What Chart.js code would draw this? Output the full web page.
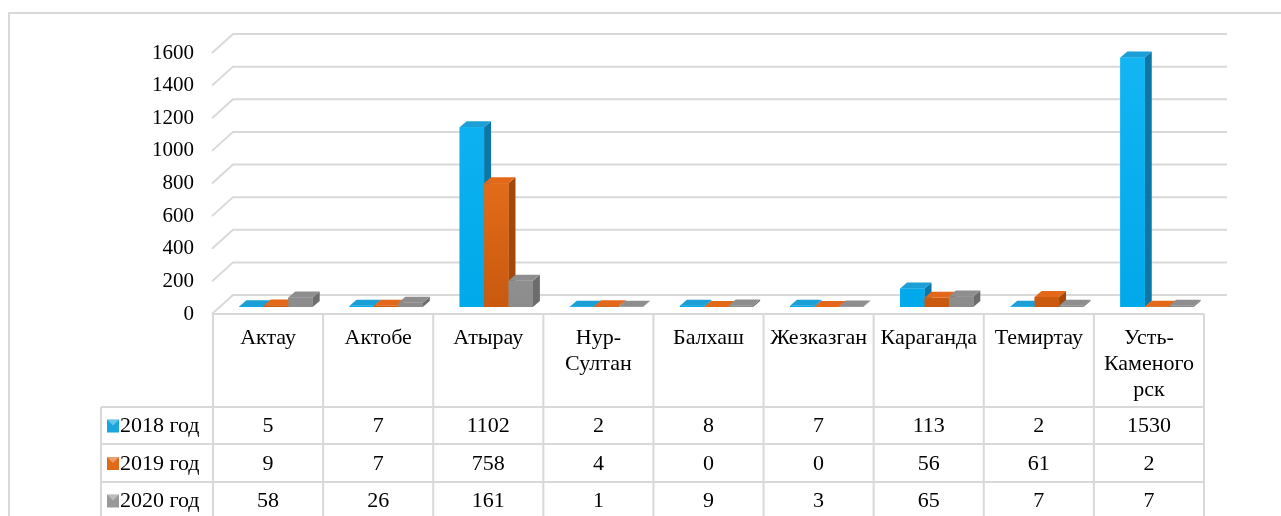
<!DOCTYPE html>
<html><head><meta charset="utf-8">
<script src="https://cdn.jsdelivr.net/npm/chart.js@4/dist/chart.umd.min.js"></script>
<style>html,body{margin:0;padding:0;background:#fff;}canvas{display:block;}</style>
</head><body>
<canvas id="c" width="1281" height="516"></canvas>
<script>
// ---- data ----
const categories = [["Актау"],["Актобе"],["Атырау"],["Нур-","Султан"],["Балхаш"],["Жезказган"],["Караганда"],["Темиртау"],["Усть-","Каменого","рск"]];
const seriesNames = ["2018 год","2019 год","2020 год"];
const values2018 = [5,7,1102,2,8,7,113,2,1530];
const values2019 = [9,7,758,4,0,0,56,61,2];
const values2020 = [58,26,161,1,9,3,65,7,7];
const yTicks = [0,200,400,600,800,1000,1200,1400,1600];

// ---- styles ----
const FAMILY = "'Liberation Serif', 'Times New Roman', serif";
const FONT = "22px " + FAMILY;
const GRID = '#D9D9D9';
const WALL = {dx:21, dy:-19};
const SHIFT = {dx:8, dy:-7};
const BD = {dx:7, dy:-6};
const palette = [
  {g:['#12B6F3','#00A9EA'], side:'#0A77A8', top:'#1B9FD6', mark:'#1AA6DC'},
  {g:['#FF8024','#C8590F'], side:'#A3470A', top:'#E3681A', mark:'#E06A1A'},
  {g:['#A8A8A8','#8C8C8C'], side:'#6C6C6C', top:'#8E8E8E', mark:'#999999'}
];
const series = [values2018, values2019, values2020];

function grad(i){
  return (ctx)=>{
    const a = ctx.chart.chartArea;
    if(!a) return palette[i].g[0];
    const g = ctx.chart.ctx.createLinearGradient(0,a.top,0,a.bottom);
    g.addColorStop(0,palette[i].g[0]); g.addColorStop(1,palette[i].g[1]);
    return g;
  };
}

function drawFaces(ctx, bar, p){
  const {x,y,base,width} = bar.getProps(['x','y','base','width'], true);
  const l = x - width/2, r = x + width/2;
  ctx.fillStyle = p.side;
  ctx.beginPath(); ctx.moveTo(r,y); ctx.lineTo(r+BD.dx,y+BD.dy); ctx.lineTo(r+BD.dx,base+BD.dy); ctx.lineTo(r,base); ctx.closePath(); ctx.fill();
  ctx.fillStyle = p.top;
  ctx.beginPath(); ctx.moveTo(l,y); ctx.lineTo(l+BD.dx,y+BD.dy); ctx.lineTo(r+BD.dx,y+BD.dy); ctx.lineTo(r,y); ctx.closePath(); ctx.fill();
}

const plugin3d = {
  id:'plugin3d',
  beforeDraw(chart){
    const ctx = chart.ctx;
    ctx.save();
    ctx.fillStyle='#fff'; ctx.fillRect(0,0,chart.width,chart.height);
    ctx.strokeStyle=GRID; ctx.lineWidth=2;
    ctx.beginPath(); ctx.moveTo(9,chart.height); ctx.lineTo(9,13); ctx.lineTo(chart.width,13); ctx.stroke();
    ctx.restore();
  },
  beforeDatasetsDraw(chart){
    const {ctx, chartArea:a, scales:{y}} = chart;
    ctx.save();
    ctx.strokeStyle=GRID; ctx.lineWidth=2;
    yTicks.forEach(v=>{
      const yy = y.getPixelForValue(v);
      ctx.beginPath();
      ctx.moveTo(a.left-1, yy);
      ctx.lineTo(a.left-1+WALL.dx, yy+WALL.dy);
      ctx.lineTo(a.right+WALL.dx+2, yy+WALL.dy);
      ctx.stroke();
    });
    ctx.restore();
    ctx.save();
    ctx.translate(SHIFT.dx, SHIFT.dy);
  },
  afterDatasetsDraw(chart){
    const ctx = chart.ctx;
    for(let i=0;i<series.length;i++){
      const meta = chart.getDatasetMeta(i);
      meta.data.forEach(bar=>{
        drawFaces(ctx, bar, palette[i]);
        bar.draw(ctx);
      });
    }
    ctx.restore();
  },
  afterDraw(chart){
    const {ctx, chartArea:a, scales:{x}} = chart;
    const cw = (a.right - a.left)/categories.length;
    const top = a.bottom, legL = 101;
    const rows = [407,444,482,519];
    ctx.save();
    ctx.strokeStyle=GRID; ctx.lineWidth=2;
    ctx.beginPath();
    ctx.moveTo(a.left, top); ctx.lineTo(a.right, top);
    for(let i=0;i<=categories.length;i++){
      const xx = a.left + i*cw;
      ctx.moveTo(xx, top); ctx.lineTo(xx, chart.height);
    }
    rows.slice(0,3).forEach(r=>{ ctx.moveTo(legL, r); ctx.lineTo(a.right, r); });
    ctx.moveTo(legL, rows[0]); ctx.lineTo(legL, chart.height);
    ctx.stroke();
    ctx.fillStyle='#000'; ctx.font=FONT; ctx.textBaseline='middle'; ctx.textAlign='center';
    categories.forEach((lines,i)=>{
      const cx = x.getPixelForValue(i);
      lines.forEach((t,k)=> ctx.fillText(t, cx, 338 + k*26));
    });
    series.forEach((vals,s)=>{
      const cy = (rows[s]+rows[s+1])/2 + 1;
      ctx.textAlign='center';
      vals.forEach((v,i)=> ctx.fillText(String(v), x.getPixelForValue(i), cy));
      const p = palette[s];
      ctx.fillStyle = p.mark; ctx.fillRect(107, cy-7, 12, 13);
      ctx.fillStyle = 'rgba(255,255,255,0.35)';
      ctx.beginPath(); ctx.moveTo(107,cy-7); ctx.lineTo(119,cy-7); ctx.lineTo(113,cy-1); ctx.closePath(); ctx.fill();
      ctx.fillStyle='#000'; ctx.textAlign='left';
      ctx.fillText(seriesNames[s], 120, cy);
    });
    ctx.restore();
  }
};

new Chart(document.getElementById('c'), {
  type:'bar',
  data:{
    labels: categories,
    datasets: series.map((vals,i)=>({
      label: seriesNames[i], data: vals,
      backgroundColor: grad(i), borderWidth:0,
      categoryPercentage: 0.665, barPercentage: 1.0,
      clip: false
    }))
  },
  options:{
    responsive:false, animation:false,
    layout:{padding:{left:0, top:53, right:77, bottom:202}},
    plugins:{legend:{display:false}, tooltip:{enabled:false}},
    scales:{
      x:{display:false},
      y:{
        min:0, max:1600,
        afterFit(s){ s.width = 213; },
        afterBuildTicks(s){ s.ticks = yTicks.map(v=>({value:v})); },
        ticks:{ padding:19, color:'#000', font:{family:FAMILY, size:21}, callback:(v)=>String(v) },
        grid:{display:false, drawTicks:false},
        border:{display:false}
      }
    }
  },
  plugins:[plugin3d]
});
</script>
</body></html>
